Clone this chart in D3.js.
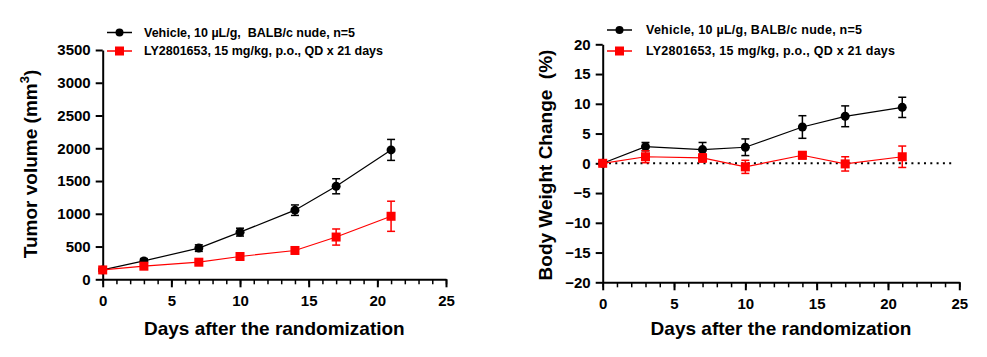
<!DOCTYPE html>
<html><head><meta charset="utf-8">
<script src="https://cdn.jsdelivr.net/npm/d3@7"></script>
<style>
body{margin:0;background:#fff;}
text{font-family:"Liberation Sans",Arial,sans-serif;font-weight:bold;fill:#000;}
</style></head>
<body><svg id="c" width="987" height="357"></svg>
<script>
const days = [0, 3, 7, 10, 14, 17, 21];
const seriesNames = ["Vehicle, 10 \u00b5L/g,  BALB/c nude, n=5", "LY2801653, 15 mg/kg, p.o., QD x 21 days"];
const seriesNamesRight = ["Vehicle, 10 \u00b5L/g, BALB/c nude, n=5", "LY2801653, 15 mg/kg, p.o., QD x 21 days"];
const tvVehicle = [143, 281, 476, 720, 1055, 1420, 1975];
const tvVehicleErr = [25, 35, 50, 60, 80, 115, 160];
const tvDrug = [143, 200, 261, 348, 440, 645, 962];
const tvDrugErr = [20, 25, 25, 25, 30, 123, 230];
const bwVehicle = [0, 2.8, 2.3, 2.7, 6.1, 7.9, 9.4];
const bwVehicleErr = [0.3, 0.7, 1.2, 1.4, 1.9, 1.75, 1.7];
const bwDrug = [0, 1.1, 0.9, -0.6, 1.35, -0.1, 1.1];
const bwDrugErr = [0.3, 1.0, 0.7, 1.1, 0.6, 1.2, 1.8];
const xTicks = [0, 5, 10, 15, 20, 25];
const tvTicks = [0, 500, 1000, 1500, 2000, 2500, 3000, 3500];
const bwTicks = [-20, -15, -10, -5, 0, 5, 10, 15, 20];
const colors = ["#000000", "#ff0000"];

const svg = d3.select("#c");

function panel(o){
  const g = svg.append("g");
  const x = d3.scaleLinear().domain([0,25]).range([o.x0, o.x1]);
  const y = d3.scaleLinear().domain(o.ydom).range([o.y0, o.y1]);
  g.append("g").attr("transform",`translate(0,${o.y0})`)
    .call(d3.axisBottom(x).tickValues(d3.range(0,26,1)).tickSize(5).tickFormat(""))
    .call(a=>a.select(".domain").remove())
    .call(a=>a.selectAll("line").attr("stroke-width",1.5));
  const xa = g.append("g").attr("transform",`translate(0,${o.y0})`)
    .call(d3.axisBottom(x).tickValues(xTicks).tickSize(8).tickSizeOuter(0).tickPadding(7).tickFormat(d3.format("d")));
  xa.select(".domain").attr("stroke-width",2);
  xa.selectAll("line").attr("stroke-width",2);
  xa.selectAll("text").attr("font-size",15).attr("dy","0.75em");
  const ya = g.append("g").attr("transform",`translate(${o.x0},0)`)
    .call(d3.axisLeft(y).tickValues(o.yticks).tickSize(7).tickSizeOuter(0).tickPadding(5).tickFormat(d3.format("d")));
  ya.select(".domain").attr("stroke-width",2);
  ya.selectAll("line").attr("stroke-width",2);
  ya.selectAll("text").attr("font-size",15);
  g.append("text").attr("x",(o.x0+o.x1)/2).attr("y",335).attr("text-anchor","middle")
    .attr("font-size",19).text("Days after the randomization");
  const yt = g.append("text").attr("transform",`translate(${o.ytx},${o.yty}) rotate(-90)`)
    .attr("text-anchor","middle").attr("font-size",19);
  o.ytitle(yt);
  if (o.zeroLine){
    g.append("line").attr("x1",x(0)).attr("x2",x(24.7)).attr("y1",y(0)).attr("y2",y(0))
      .attr("stroke","#000").attr("stroke-width",2).attr("stroke-dasharray","2,4.3");
  }
  const line = d3.line().x((d,i)=>x(days[i])).y(d=>y(d));
  o.series.forEach((s,k)=>{
    const c = colors[k];
    const sg = g.append("g");
    sg.append("path").datum(s.v).attr("d",line).attr("fill","none").attr("stroke",c).attr("stroke-width",1.2);
    s.v.forEach((v,i)=>{
      const e = s.e[i], xi = x(days[i]);
      sg.append("line").attr("x1",xi).attr("x2",xi).attr("y1",y(v+e)).attr("y2",y(v-e)).attr("stroke",c).attr("stroke-width",1.5);
      [v+e, v-e].forEach(w=>sg.append("line").attr("x1",xi-4).attr("x2",xi+4).attr("y1",y(w)).attr("y2",y(w)).attr("stroke",c).attr("stroke-width",1.5));
      if (k===0) sg.append("circle").attr("cx",xi).attr("cy",y(v)).attr("r",4.5).attr("fill",c);
      else sg.append("rect").attr("x",xi-4.5).attr("y",y(v)-4.5).attr("width",9).attr("height",9).attr("fill",c);
    });
  });
  o.names.forEach((n,k)=>{
    const ly = o.ly[k];
    const lg = g.append("g");
    lg.append("line").attr("x1",o.lx).attr("x2",o.lx+25).attr("y1",ly).attr("y2",ly).attr("stroke",colors[k]).attr("stroke-width",1.5);
    if (k===0) lg.append("circle").attr("cx",o.lx+12.5).attr("cy",ly).attr("r",4).attr("fill",colors[k]);
    else lg.append("rect").attr("x",o.lx+8).attr("y",ly-4.5).attr("width",9).attr("height",9).attr("fill",colors[k]);
    const t = lg.append("text").attr("x",o.tx).attr("y",ly).attr("dy","0.35em").attr("font-size",12.5)
      .attr("xml:space","preserve").style("white-space","pre").text(n);
    const len = t.node().getComputedTextLength();
    const ls = (o.tl[k]-len)/(n.length-1);
    t.style("letter-spacing", ls.toFixed(3)+"px");
  });
}

panel({x0:102.7,x1:446,y0:279.3,y1:50,ydom:[0,3500],yticks:tvTicks,
  ytx:37, yty:164,
  ytitle: t=>{ t.append("tspan").text("Tumor volume (mm"); t.append("tspan").attr("dy",-8).attr("font-size",13).text("3"); t.append("tspan").attr("dy",8).text(")"); },
  series:[{v:tvVehicle,e:tvVehicleErr},{v:tvDrug,e:tvDrugErr}],
  names:seriesNames, lx:107, tx:144, ly:[32.5,51], tl:[211,239]});
panel({x0:602.7,x1:959.3,y0:282.3,y1:44.3,ydom:[-20,20],yticks:bwTicks,
  ytx:552, yty:165, zeroLine:true,
  ytitle: t=>t.attr("xml:space","preserve").style("white-space","pre").text("Body Weight Change  (%)"),
  series:[{v:bwVehicle,e:bwVehicleErr},{v:bwDrug,e:bwDrugErr}],
  names:seriesNamesRight, lx:607, tx:646, ly:[30,51], tl:[216,249]});
</script></body></html>
